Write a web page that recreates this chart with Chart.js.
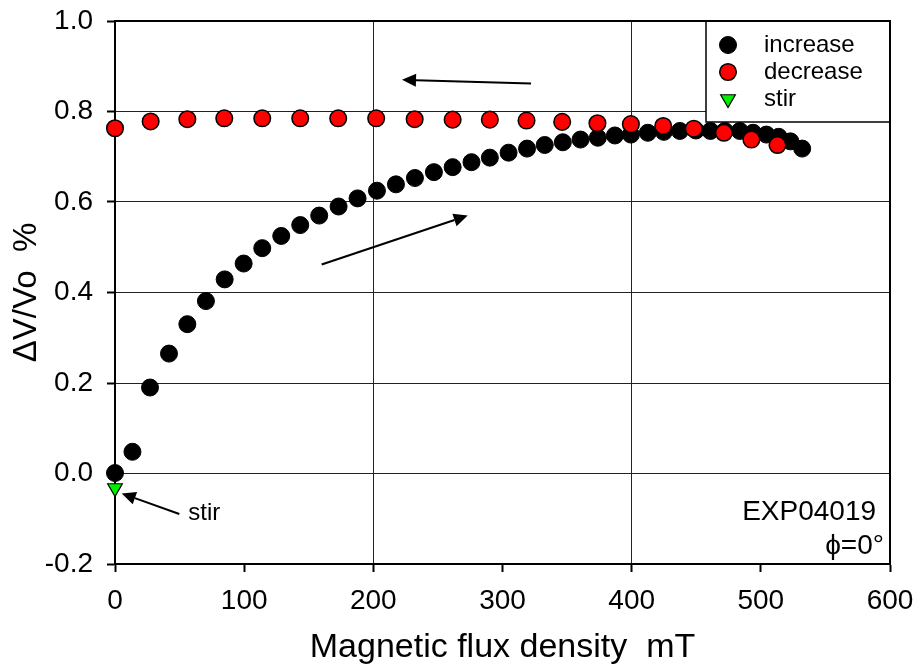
<!DOCTYPE html>
<html>
<head>
<meta charset="utf-8">
<script src="https://cdn.jsdelivr.net/npm/chart.js@4.4.1/dist/chart.umd.min.js"></script>
<style>
  html, body { margin: 0; padding: 0; background: #fff; }
  #wrap { width: 924px; height: 668px; }
</style>
</head>
<body>
<div id="wrap"><canvas id="c" width="924" height="668"></canvas></div>
<script>
// Field sweep up: flux density (mT) and relative voltage change (%)
const increaseField = [0, 13.5, 27.1, 41.8, 56.0, 70.4, 84.9, 99.6, 114.0, 128.7, 143.4, 158.1, 173.1, 187.8,
  202.8, 217.5, 232.2, 246.9, 261.4, 276.0, 290.2, 304.7, 319.0, 332.7, 346.7, 360.4, 373.8, 387.0,
  399.4, 412.5, 424.9, 437.3, 449.7, 461.0, 472.1, 483.7, 494.0, 504.3, 513.8, 522.9, 532.0];
const increaseDV = [0.001, 0.048, 0.190, 0.265, 0.330, 0.381, 0.429, 0.464, 0.498, 0.525, 0.549, 0.570, 0.590, 0.608,
  0.625, 0.639, 0.653, 0.666, 0.677, 0.688, 0.698, 0.709, 0.718, 0.726, 0.732, 0.738, 0.742, 0.747,
  0.749, 0.753, 0.755, 0.757, 0.758, 0.757, 0.757, 0.757, 0.753, 0.749, 0.744, 0.734, 0.718];

// Field sweep down
const decreaseField = [0, 27.6, 56.0, 84.6, 114.0, 143.4, 172.8, 202.2, 232.0, 261.4, 290.2, 318.6, 346.2,
  373.5, 399.4, 424.4, 448.1, 471.4, 492.7, 512.9];
const decreaseDV = [0.763, 0.778, 0.783, 0.785, 0.785, 0.785, 0.785, 0.785, 0.783, 0.782, 0.782, 0.780, 0.777,
  0.774, 0.772, 0.768, 0.762, 0.753, 0.738, 0.726];

// Stirred sample at zero field
const stirField = [0];
const stirDV = [-0.032];

const xTickValues = [0, 100, 200, 300, 400, 500, 600];
const yTickValues = [-0.2, 0.0, 0.2, 0.4, 0.6, 0.8, 1.0];

const seriesNames = ['increase', 'decrease', 'stir'];
const xTitle = 'Magnetic flux density  mT';
const yTitle = '\u0394V/Vo  %';
const runLabel = 'EXP04019';
const angleLabel = '\u03D5=0\u00B0';

const FONT = '"Liberation Sans", Arial, Helvetica, sans-serif';

const toPoints = (xs, ys) => xs.map((x, i) => ({ x: x, y: ys[i] }));

// Marker styles; lower drawOrder is painted on top
const seriesStyle = [
  { fill: '#000000', stroke: '#000000', shape: 'circle', r: 8.5, bw: 1, drawOrder: 2 },
  { fill: '#ff0000', stroke: '#000000', shape: 'circle', r: 8.3, bw: 1.5, drawOrder: 1 },
  { fill: '#00ee00', stroke: '#000000', shape: 'triangle', r: 8.5, bw: 1.2, drawOrder: 0 }
];

function drawMarker(ctx, st, x, y) {
  ctx.save();
  ctx.fillStyle = st.fill;
  ctx.strokeStyle = st.stroke;
  ctx.lineWidth = st.bw;
  ctx.beginPath();
  if (st.shape === 'circle') {
    ctx.arc(x, y, st.r, 0, Math.PI * 2);
  } else {
    const r = st.r;
    ctx.moveTo(x, y + r);
    ctx.lineTo(x - r * Math.sin(Math.PI / 3), y - r / 2);
    ctx.lineTo(x + r * Math.sin(Math.PI / 3), y - r / 2);
    ctx.closePath();
  }
  ctx.fill();
  ctx.stroke();
  ctx.restore();
}

function drawArrow(ctx, x1, y1, x2, y2) {
  const ang = Math.atan2(y2 - y1, x2 - x1);
  const len = 14, half = 6.5;
  const bx = x2 - len * Math.cos(ang), by = y2 - len * Math.sin(ang);
  ctx.save();
  ctx.strokeStyle = '#000';
  ctx.fillStyle = '#000';
  ctx.lineWidth = 2;
  ctx.beginPath();
  ctx.moveTo(x1, y1);
  ctx.lineTo(bx, by);
  ctx.stroke();
  ctx.beginPath();
  ctx.moveTo(x2, y2);
  ctx.lineTo(bx + half * Math.sin(ang), by - half * Math.cos(ang));
  ctx.lineTo(bx - half * Math.sin(ang), by + half * Math.cos(ang));
  ctx.closePath();
  ctx.fill();
  ctx.restore();
}

// Direction arrows and labels, placed in data units
const arrows = [
  { from: [322.1, 0.862], to: [222.2, 0.870] },
  { from: [160.0, 0.462], to: [273.1, 0.570] },
  { from: [49.8, -0.0895], to: [5.2, -0.044] }
];

const framePlugin = {
  id: 'frame',
  beforeDatasetsDraw(chart) {
    const { ctx, chartArea: a } = chart;
    ctx.save();
    ctx.strokeStyle = '#000';
    ctx.lineWidth = 2;
    ctx.beginPath();
    ctx.moveTo(a.left, a.top);
    ctx.lineTo(a.right, a.top);
    ctx.lineTo(a.right, a.bottom);
    ctx.stroke();
    ctx.restore();
  },
  afterDatasetsDraw(chart) {
    const { ctx, chartArea: a, scales: { x, y } } = chart;

    arrows.forEach(ar => {
      drawArrow(ctx, x.getPixelForValue(ar.from[0]), y.getPixelForValue(ar.from[1]),
        x.getPixelForValue(ar.to[0]), y.getPixelForValue(ar.to[1]));
    });

    ctx.save();
    ctx.fillStyle = '#000';
    ctx.textBaseline = 'middle';
    ctx.font = '24px ' + FONT;
    ctx.textAlign = 'left';
    ctx.fillText('stir', x.getPixelForValue(56.8), y.getPixelForValue(-0.088));

    ctx.font = '28px ' + FONT;
    ctx.textAlign = 'right';
    ctx.fillText(runLabel, x.getPixelForValue(589.2), y.getPixelForValue(-0.086));
    ctx.fillText(angleLabel, x.getPixelForValue(595.3), y.getPixelForValue(-0.160));
    ctx.restore();

    // Legend box in the upper right corner
    const lx = 706, ly = a.top, lw = a.right - 706, lh = 101;
    ctx.save();
    ctx.fillStyle = '#fff';
    ctx.fillRect(lx, ly, lw, lh);
    ctx.strokeStyle = '#000';
    ctx.lineWidth = 1.5;
    ctx.strokeRect(lx, ly, lw, lh);
    ctx.lineWidth = 2;
    ctx.beginPath();
    ctx.moveTo(lx, ly);
    ctx.lineTo(a.right, ly);
    ctx.lineTo(a.right, ly + lh);
    ctx.stroke();
    ctx.font = '24px ' + FONT;
    ctx.fillStyle = '#000';
    ctx.textBaseline = 'middle';
    ctx.textAlign = 'left';
    seriesNames.forEach((name, i) => {
      const cy = ly + 24 + i * 27;
      drawMarker(ctx, seriesStyle[i], 728, cy);
      ctx.fillStyle = '#000';
      ctx.fillText(name, 764, cy);
    });
    ctx.restore();
  }
};

const datasets = [
  [increaseField, increaseDV],
  [decreaseField, decreaseDV],
  [stirField, stirDV]
].map((d, i) => {
  const st = seriesStyle[i];
  return {
    label: seriesNames[i],
    data: toPoints(d[0], d[1]),
    order: st.drawOrder,
    showLine: false,
    clip: false,
    pointStyle: st.shape,
    rotation: st.shape === 'triangle' ? 180 : 0,
    pointRadius: st.r,
    pointHoverRadius: st.r,
    pointBackgroundColor: st.fill,
    pointBorderColor: st.stroke,
    pointBorderWidth: st.bw
  };
});

new Chart(document.getElementById('c'), {
  type: 'scatter',
  data: { datasets: datasets },
  options: {
    responsive: false,
    devicePixelRatio: 1,
    animation: false,
    layout: { padding: { top: 21, right: 34, left: 0, bottom: 0 } },
    plugins: { legend: { display: false }, tooltip: { enabled: false } },
    scales: {
      x: {
        type: 'linear',
        min: xTickValues[0],
        max: xTickValues[xTickValues.length - 1],
        afterBuildTicks: s => { s.ticks = xTickValues.map(v => ({ value: v })); },
        afterFit: s => { s.height = 104; s.paddingLeft = 0; s.paddingRight = 0; },
        ticks: {
          color: '#000',
          padding: 12,
          font: { family: FONT, size: 28 },
          maxRotation: 0,
          callback: v => String(v)
        },
        grid: {
          color: c => (c.tick && c.tick.value % 200 === 0) ? '#222' : 'rgba(0,0,0,0)',
          lineWidth: 1,
          tickColor: '#000',
          tickWidth: 2,
          tickLength: 8
        },
        border: { display: true, color: '#000', width: 2 },
        title: {
          display: true,
          text: xTitle,
          color: '#000',
          font: { family: FONT, size: 34 },
          padding: { top: 0, bottom: 0 }
        }
      },
      y: {
        type: 'linear',
        min: yTickValues[0],
        max: yTickValues[yTickValues.length - 1],
        afterBuildTicks: s => { s.ticks = yTickValues.map(v => ({ value: v })); },
        afterFit: s => { s.width = 115; s.paddingTop = 0; s.paddingBottom = 0; },
        ticks: {
          color: '#000',
          padding: 14,
          font: { family: FONT, size: 28 },
          callback: v => Number(v).toFixed(1)
        },
        grid: {
          color: '#222',
          lineWidth: 1,
          tickColor: '#000',
          tickWidth: 2,
          tickLength: 8
        },
        border: { display: true, color: '#000', width: 2 },
        title: {
          display: true,
          text: yTitle,
          color: '#000',
          font: { family: FONT, size: 33 },
          padding: { top: 7, bottom: 0 }
        }
      }
    }
  },
  plugins: [framePlugin]
});
</script>
</body>
</html>
